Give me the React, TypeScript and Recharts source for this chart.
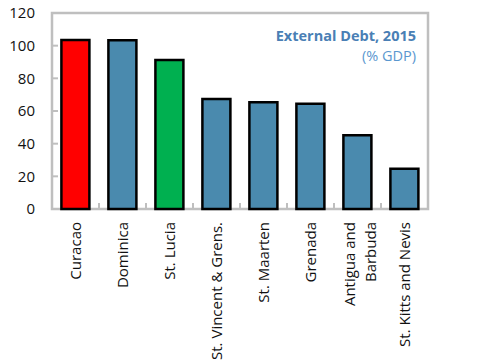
import React from 'react';
import { BarChart, Bar, XAxis, YAxis, Cell, ReferenceArea } from 'recharts';

const categories = [
  'Curacao',
  'Dominica',
  'St. Lucia',
  'St. Vincent & Grens.',
  'St. Maarten',
  'Grenada',
  'Antigua and\nBarbuda',
  'St. Kitts and Nevis',
];
const debtValues = [103.5, 103.3, 91.3, 67.3, 65.3, 64.4, 45.2, 24.6];
const barColors = ['#ff0000', '#4a8aae', '#00b050', '#4a8aae', '#4a8aae', '#4a8aae', '#4a8aae', '#4a8aae'];
const yTicks = [0, 20, 40, 60, 80, 100, 120];
const titleText = 'External Debt, 2015';
const subtitleText = '(% GDP)';

const data = categories.map((c, i) => ({ name: c, value: debtValues[i] }));

const W = 477;
const H = 364;
const LEFT_W = 52;
const RIGHT_W = 49;
const TOP = 13;
const X_H = 155;
const BAND = (W - LEFT_W - RIGHT_W) / categories.length;
const FONT = "'Open Sans', sans-serif";
const FRAME = '#bfbfbf';
const Y_GAP_L = 17;
const Y_GAP_R = 19;
const X_GAP = 13;

const LeftTick = (props: any) => {
  const { x, y, payload } = props;
  return (
    <g>
      <line x1={x + Y_GAP_L} x2={x + Y_GAP_L + 6} y1={y} y2={y} stroke={FRAME} strokeWidth={2} />
      <text x={x} y={y} dy="0.355em" textAnchor="end" fontFamily={FONT} fontSize={15} fill="#111">
        {payload.value}
      </text>
    </g>
  );
};

const RightTick = (props: any) => {
  const { x, y, payload } = props;
  return (
    <g>
      <line x1={x - Y_GAP_R} x2={x - Y_GAP_R - 6} y1={y} y2={y} stroke={FRAME} strokeWidth={2} />
      <text x={x} y={y} dy="0.355em" textAnchor="start" fontFamily={FONT} fontSize={15} fill="#111">
        {payload.value}
      </text>
    </g>
  );
};

const XTick = (props: any) => {
  const { x, y, payload, index } = props;
  const lines = String(payload.value).split('\n');
  const fs = 15;
  const lh = 21;
  const first = fs * 0.35 - ((lines.length - 1) / 2) * lh + (lines.length > 1 ? 3 : 0);
  return (
    <g>
      {index > 0 && (
        <line
          x1={x - BAND / 2}
          x2={x - BAND / 2}
          y1={y - X_GAP}
          y2={y - X_GAP - 6}
          stroke={FRAME}
          strokeWidth={2}
        />
      )}
      <g transform={`translate(${x},${y}) rotate(-90)`}>
        <text x={0} y={0} textAnchor="end" fontFamily={FONT} fontSize={fs} fill="#111">
          {lines.map((l, i) => (
            <tspan key={i} x={0} dy={i === 0 ? first : lh}>
              {l}
            </tspan>
          ))}
        </text>
      </g>
    </g>
  );
};

export default function App() {
  return (
    <div style={{ position: 'absolute', left: 0, top: 0, width: W, height: H, background: '#fff' }}>
      <BarChart
        width={W}
        height={H}
        data={data}
        margin={{ top: TOP, right: 0, left: 0, bottom: 0 }}
        barCategoryGap="20%"
      >
        <XAxis
          dataKey="name"
          height={X_H}
          interval={0}
          axisLine={false}
          tickLine={false}
          tickSize={0}
          tickMargin={X_GAP}
          tick={<XTick />}
        />
        <YAxis
          yAxisId="left"
          orientation="left"
          width={LEFT_W}
          domain={[0, 120]}
          ticks={yTicks}
          axisLine={false}
          tickLine={false}
          tickSize={0}
          tickMargin={Y_GAP_L}
          tick={<LeftTick />}
        />
        <YAxis
          yAxisId="right"
          orientation="right"
          width={RIGHT_W}
          domain={[0, 120]}
          ticks={yTicks}
          axisLine={false}
          tickLine={false}
          tickSize={0}
          tickMargin={Y_GAP_R}
          tick={<RightTick />}
        />
        <Bar yAxisId="left" dataKey="value" stroke="#000" strokeWidth={2.5} isAnimationActive={false}>
          {data.map((d, i) => (
            <Cell key={d.name} fill={barColors[i]} />
          ))}
        </Bar>
        <ReferenceArea
          yAxisId="left"
          y1={0}
          y2={120}
          fill="none"
          fillOpacity={0}
          stroke={FRAME}
          strokeWidth={2.5}
          ifOverflow="visible"
        />
      </BarChart>
      <svg
        width={W}
        height={H}
        style={{ position: 'absolute', left: 0, top: 0, pointerEvents: 'none' }}
      >
        <text x={416} y={41} textAnchor="end" fontFamily={FONT} fontWeight="bold" fontSize={14.5} fill="#4a7fb5">
          {titleText}
        </text>
        <text x={416} y={61} textAnchor="end" fontFamily={FONT} fontSize={14.5} fill="#5a97cf">
          {subtitleText}
        </text>
      </svg>
    </div>
  );
}
